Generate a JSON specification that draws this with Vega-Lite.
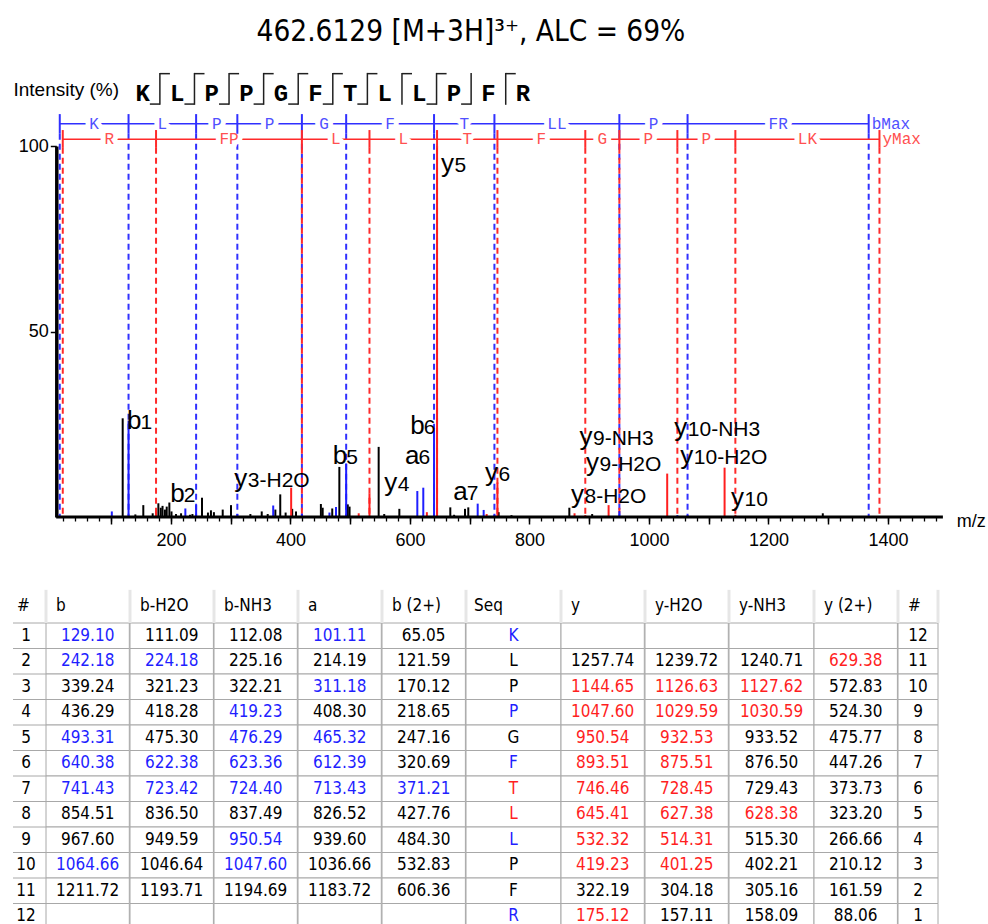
{
"$schema": "https://vega.github.io/schema/vega-lite/v6.json",
"padding": {"left": 12, "top": 16, "right": 5, "bottom": 0},
"title": {"text": "462.6129 [M+3H]³⁺, ALC = 69%", "font": "DejaVu Sans Condensed", "fontSize": 29.5, "fontWeight": "normal", "anchor": "middle", "dx": -28, "offset": 25, "color": "#000000"},
"config": {"view": {"stroke": null}, "axis": {"labelFont": "Liberation Sans", "titleFont": "Liberation Sans"}},
"spacing": 38.5,
"datasets": {
"peaks": [
{"mz":119.3,"in":26.6,"t":"n"},{"mz":140.5,"in":0.7,"t":"n"},{"mz":153.8,"in":3.2,"t":"n"},{"mz":169.5,"in":1.0,"t":"n"},{"mz":179,"in":3.7,"t":"n"},{"mz":183,"in":2.5,"t":"n"},{"mz":186,"in":3.0,"t":"n"},{"mz":190,"in":2.0,"t":"n"},{"mz":193,"in":2.8,"t":"n"},{"mz":197.4,"in":3.9,"t":"n"},{"mz":201,"in":1.5,"t":"n"},{"mz":208.5,"in":0.8,"t":"n"},{"mz":217,"in":1.0,"t":"n"},{"mz":232,"in":0.6,"t":"n"},{"mz":236,"in":0.8,"t":"n"},{"mz":252,"in":5.2,"t":"n"},{"mz":262,"in":1.2,"t":"n"},{"mz":267,"in":1.8,"t":"n"},{"mz":272,"in":1.3,"t":"n"},{"mz":286.7,"in":2.0,"t":"n"},{"mz":300.6,"in":3.2,"t":"n"},{"mz":333,"in":0.8,"t":"n"},{"mz":352,"in":1.5,"t":"n"},{"mz":362,"in":0.8,"t":"n"},{"mz":374.8,"in":2.0,"t":"n"},{"mz":383,"in":6.1,"t":"n"},{"mz":392,"in":1.2,"t":"n"},{"mz":403,"in":2.2,"t":"n"},{"mz":409.4,"in":1.5,"t":"n"},{"mz":451,"in":3.5,"t":"n"},{"mz":454,"in":2.5,"t":"n"},{"mz":470,"in":2.3,"t":"n"},{"mz":481.9,"in":13.5,"t":"n"},{"mz":496,"in":3.4,"t":"n"},{"mz":499,"in":2.8,"t":"n"},{"mz":547.7,"in":18.9,"t":"n"},{"mz":557,"in":0.8,"t":"n"},{"mz":582.3,"in":2.2,"t":"n"},{"mz":667.6,"in":2.6,"t":"n"},{"mz":674,"in":0.6,"t":"n"},{"mz":692.2,"in":2.2,"t":"n"},{"mz":697.7,"in":2.6,"t":"n"},{"mz":748.5,"in":1.3,"t":"n"},{"mz":770,"in":0.5,"t":"n"},{"mz":866.8,"in":2.5,"t":"n"},{"mz":905,"in":0.8,"t":"n"},{"mz":1291,"in":1.0,"t":"n"},
{"mz":101.11,"in":1.5,"t":"b"},{"mz":129.10,"in":26.0,"t":"b"},{"mz":224.18,"in":2.3,"t":"b"},{"mz":242.18,"in":3.2,"t":"b"},{"mz":311.18,"in":0.8,"t":"b"},{"mz":371.21,"in":3.1,"t":"b"},{"mz":419.23,"in":0.9,"t":"b"},{"mz":465.32,"in":1.2,"t":"b"},{"mz":476.29,"in":2.7,"t":"b"},{"mz":493.31,"in":14.4,"t":"b"},{"mz":612.39,"in":7.0,"t":"b"},{"mz":622.38,"in":7.9,"t":"b"},{"mz":640.38,"in":24.0,"t":"b"},{"mz":713.43,"in":3.6,"t":"b"},{"mz":723.42,"in":1.9,"t":"b"},{"mz":741.43,"in":0.6,"t":"b"},{"mz":950.54,"in":1.6,"t":"b"},{"mz":1047.60,"in":0.5,"t":"b"},{"mz":1064.66,"in":0.5,"t":"b"},
{"mz":175.12,"in":1.8,"t":"y"},{"mz":401.25,"in":7.9,"t":"y"},{"mz":514.31,"in":1.0,"t":"y"},{"mz":532.32,"in":6.3,"t":"y"},{"mz":628.38,"in":1.3,"t":"y"},{"mz":645.41,"in":100,"t":"y"},{"mz":728.45,"in":0.8,"t":"y"},{"mz":746.46,"in":9.3,"t":"y"},{"mz":875.51,"in":1.0,"t":"y"},{"mz":893.51,"in":0.5,"t":"y"},{"mz":932.53,"in":3.2,"t":"y"},{"mz":1030.59,"in":11.7,"t":"y"},{"mz":1126.63,"in":13.3,"t":"y"},{"mz":1144.65,"in":0.6,"t":"y"}
],
"lad": [
{"s":"b","mz":14},{"s":"b","mz":129.10},{"s":"b","mz":242.18},{"s":"b","mz":311.18},{"s":"b","mz":419.23},{"s":"b","mz":493.31},{"s":"b","mz":640.38},{"s":"b","mz":741.43},{"s":"b","mz":950.54},{"s":"b","mz":1064.66},{"s":"b","mz":1367.80},
{"s":"y","mz":19.02},{"s":"y","mz":175.12},{"s":"y","mz":419.23},{"s":"y","mz":532.32},{"s":"y","mz":645.41},{"s":"y","mz":746.46},{"s":"y","mz":893.51},{"s":"y","mz":950.54},{"s":"y","mz":1047.60},{"s":"y","mz":1144.65},{"s":"y","mz":1385.82}
],
"ladlab": [
{"s":"b","mz":71.55,"l":"K"},{"s":"b","mz":185.64,"l":"L"},{"s":"b","mz":276.68,"l":"P"},{"s":"b","mz":365.2,"l":"P"},{"s":"b","mz":456.27,"l":"G"},{"s":"b","mz":566.85,"l":"F"},{"s":"b","mz":690.9,"l":"T"},{"s":"b","mz":845.99,"l":"LL"},{"s":"b","mz":1007.6,"l":"P"},{"s":"b","mz":1216.23,"l":"FR"},
{"s":"y","mz":97.07,"l":"R"},{"s":"y","mz":297.18,"l":"FP"},{"s":"y","mz":475.78,"l":"L"},{"s":"y","mz":588.87,"l":"L"},{"s":"y","mz":695.94,"l":"T"},{"s":"y","mz":819.99,"l":"F"},{"s":"y","mz":922.03,"l":"G"},{"s":"y","mz":999.07,"l":"P"},{"s":"y","mz":1096.13,"l":"P"},{"s":"y","mz":1265.24,"l":"LK"}
],
"ann": [
{"ion":"b","rest":"1","mz":126.5,"in":23.7},{"ion":"b","rest":"2","mz":199,"in":4.1},{"ion":"y","rest":"3-H2O","mz":306.1,"in":8.1},{"ion":"b","rest":"5","mz":470.8,"in":14.2},{"ion":"a","rest":"6","mz":591.8,"in":14.2},{"ion":"b","rest":"6","mz":600.7,"in":22.3},{"ion":"y","rest":"4","mz":557.2,"in":7.0},{"ion":"a","rest":"7","mz":672.6,"in":4.6},{"ion":"y","rest":"6","mz":725.7,"in":9.7},{"ion":"y","rest":"5","mz":652,"in":93},{"ion":"y","rest":"8-H2O","mz":869.6,"in":3.9},{"ion":"y","rest":"9-H2O","mz":894.7,"in":12.4},{"ion":"y","rest":"9-NH3","mz":883.8,"in":19.4},{"ion":"y","rest":"10-NH3","mz":1042.5,"in":21.8},{"ion":"y","rest":"10-H2O","mz":1052.5,"in":14.2},{"ion":"y","rest":"10","mz":1137.4,"in":3.0}
],
"seq": [
{"i":1,"aa":"K","b":1,"y":1},{"i":2,"aa":"L","b":1,"y":1},{"i":3,"aa":"P","b":1,"y":1},{"i":4,"aa":"P","b":1,"y":1},{"i":5,"aa":"G","b":1,"y":1},{"i":6,"aa":"F","b":1,"y":1},{"i":7,"aa":"T","b":1,"y":1},{"i":8,"aa":"L","b":0,"y":1},{"i":9,"aa":"L","b":1,"y":1},{"i":10,"aa":"P","b":1,"y":0},{"i":11,"aa":"F","b":0,"y":1},{"i":12,"aa":"R","b":0,"y":0}
],
"tbl": [
{"r":0,"c":"n1","v":"#","h":"n"},{"r":0,"c":"b","v":"b","h":"n"},{"r":0,"c":"bw","v":"b-H2O","h":"n"},{"r":0,"c":"bn","v":"b-NH3","h":"n"},{"r":0,"c":"a","v":"a","h":"n"},{"r":0,"c":"b2","v":"b (2+)","h":"n"},{"r":0,"c":"sq","v":"Seq","h":"n"},{"r":0,"c":"y","v":"y","h":"n"},{"r":0,"c":"yw","v":"y-H2O","h":"n"},{"r":0,"c":"yn","v":"y-NH3","h":"n"},{"r":0,"c":"y2","v":"y (2+)","h":"n"},{"r":0,"c":"n2","v":"#","h":"n"},
{"r":1,"c":"n1","v":"1","h":"n"},{"r":1,"c":"b","v":"129.10","h":"b"},{"r":1,"c":"bw","v":"111.09","h":"n"},{"r":1,"c":"bn","v":"112.08","h":"n"},{"r":1,"c":"a","v":"101.11","h":"b"},{"r":1,"c":"b2","v":"65.05","h":"n"},{"r":1,"c":"sq","v":"K","h":"b"},{"r":1,"c":"y","v":"","h":"n"},{"r":1,"c":"yw","v":"","h":"n"},{"r":1,"c":"yn","v":"","h":"n"},{"r":1,"c":"y2","v":"","h":"n"},{"r":1,"c":"n2","v":"12","h":"n"},
{"r":2,"c":"n1","v":"2","h":"n"},{"r":2,"c":"b","v":"242.18","h":"b"},{"r":2,"c":"bw","v":"224.18","h":"b"},{"r":2,"c":"bn","v":"225.16","h":"n"},{"r":2,"c":"a","v":"214.19","h":"n"},{"r":2,"c":"b2","v":"121.59","h":"n"},{"r":2,"c":"sq","v":"L","h":"v"},{"r":2,"c":"y","v":"1257.74","h":"n"},{"r":2,"c":"yw","v":"1239.72","h":"n"},{"r":2,"c":"yn","v":"1240.71","h":"n"},{"r":2,"c":"y2","v":"629.38","h":"y"},{"r":2,"c":"n2","v":"11","h":"n"},
{"r":3,"c":"n1","v":"3","h":"n"},{"r":3,"c":"b","v":"339.24","h":"n"},{"r":3,"c":"bw","v":"321.23","h":"n"},{"r":3,"c":"bn","v":"322.21","h":"n"},{"r":3,"c":"a","v":"311.18","h":"b"},{"r":3,"c":"b2","v":"170.12","h":"n"},{"r":3,"c":"sq","v":"P","h":"v"},{"r":3,"c":"y","v":"1144.65","h":"y"},{"r":3,"c":"yw","v":"1126.63","h":"y"},{"r":3,"c":"yn","v":"1127.62","h":"y"},{"r":3,"c":"y2","v":"572.83","h":"n"},{"r":3,"c":"n2","v":"10","h":"n"},
{"r":4,"c":"n1","v":"4","h":"n"},{"r":4,"c":"b","v":"436.29","h":"n"},{"r":4,"c":"bw","v":"418.28","h":"n"},{"r":4,"c":"bn","v":"419.23","h":"b"},{"r":4,"c":"a","v":"408.30","h":"n"},{"r":4,"c":"b2","v":"218.65","h":"n"},{"r":4,"c":"sq","v":"P","h":"b"},{"r":4,"c":"y","v":"1047.60","h":"y"},{"r":4,"c":"yw","v":"1029.59","h":"y"},{"r":4,"c":"yn","v":"1030.59","h":"y"},{"r":4,"c":"y2","v":"524.30","h":"n"},{"r":4,"c":"n2","v":"9","h":"n"},
{"r":5,"c":"n1","v":"5","h":"n"},{"r":5,"c":"b","v":"493.31","h":"b"},{"r":5,"c":"bw","v":"475.30","h":"n"},{"r":5,"c":"bn","v":"476.29","h":"b"},{"r":5,"c":"a","v":"465.32","h":"b"},{"r":5,"c":"b2","v":"247.16","h":"n"},{"r":5,"c":"sq","v":"G","h":"n"},{"r":5,"c":"y","v":"950.54","h":"y"},{"r":5,"c":"yw","v":"932.53","h":"y"},{"r":5,"c":"yn","v":"933.52","h":"n"},{"r":5,"c":"y2","v":"475.77","h":"n"},{"r":5,"c":"n2","v":"8","h":"n"},
{"r":6,"c":"n1","v":"6","h":"n"},{"r":6,"c":"b","v":"640.38","h":"b"},{"r":6,"c":"bw","v":"622.38","h":"b"},{"r":6,"c":"bn","v":"623.36","h":"b"},{"r":6,"c":"a","v":"612.39","h":"b"},{"r":6,"c":"b2","v":"320.69","h":"n"},{"r":6,"c":"sq","v":"F","h":"b"},{"r":6,"c":"y","v":"893.51","h":"y"},{"r":6,"c":"yw","v":"875.51","h":"y"},{"r":6,"c":"yn","v":"876.50","h":"n"},{"r":6,"c":"y2","v":"447.26","h":"n"},{"r":6,"c":"n2","v":"7","h":"n"},
{"r":7,"c":"n1","v":"7","h":"n"},{"r":7,"c":"b","v":"741.43","h":"b"},{"r":7,"c":"bw","v":"723.42","h":"b"},{"r":7,"c":"bn","v":"724.40","h":"b"},{"r":7,"c":"a","v":"713.43","h":"b"},{"r":7,"c":"b2","v":"371.21","h":"b"},{"r":7,"c":"sq","v":"T","h":"y"},{"r":7,"c":"y","v":"746.46","h":"y"},{"r":7,"c":"yw","v":"728.45","h":"y"},{"r":7,"c":"yn","v":"729.43","h":"n"},{"r":7,"c":"y2","v":"373.73","h":"n"},{"r":7,"c":"n2","v":"6","h":"n"},
{"r":8,"c":"n1","v":"8","h":"n"},{"r":8,"c":"b","v":"854.51","h":"n"},{"r":8,"c":"bw","v":"836.50","h":"n"},{"r":8,"c":"bn","v":"837.49","h":"n"},{"r":8,"c":"a","v":"826.52","h":"n"},{"r":8,"c":"b2","v":"427.76","h":"n"},{"r":8,"c":"sq","v":"L","h":"y"},{"r":8,"c":"y","v":"645.41","h":"y"},{"r":8,"c":"yw","v":"627.38","h":"y"},{"r":8,"c":"yn","v":"628.38","h":"y"},{"r":8,"c":"y2","v":"323.20","h":"n"},{"r":8,"c":"n2","v":"5","h":"n"},
{"r":9,"c":"n1","v":"9","h":"n"},{"r":9,"c":"b","v":"967.60","h":"n"},{"r":9,"c":"bw","v":"949.59","h":"n"},{"r":9,"c":"bn","v":"950.54","h":"b"},{"r":9,"c":"a","v":"939.60","h":"n"},{"r":9,"c":"b2","v":"484.30","h":"n"},{"r":9,"c":"sq","v":"L","h":"b"},{"r":9,"c":"y","v":"532.32","h":"y"},{"r":9,"c":"yw","v":"514.31","h":"y"},{"r":9,"c":"yn","v":"515.30","h":"n"},{"r":9,"c":"y2","v":"266.66","h":"n"},{"r":9,"c":"n2","v":"4","h":"n"},
{"r":10,"c":"n1","v":"10","h":"n"},{"r":10,"c":"b","v":"1064.66","h":"b"},{"r":10,"c":"bw","v":"1046.64","h":"n"},{"r":10,"c":"bn","v":"1047.60","h":"b"},{"r":10,"c":"a","v":"1036.66","h":"n"},{"r":10,"c":"b2","v":"532.83","h":"n"},{"r":10,"c":"sq","v":"P","h":"n"},{"r":10,"c":"y","v":"419.23","h":"y"},{"r":10,"c":"yw","v":"401.25","h":"y"},{"r":10,"c":"yn","v":"402.21","h":"n"},{"r":10,"c":"y2","v":"210.12","h":"n"},{"r":10,"c":"n2","v":"3","h":"n"},
{"r":11,"c":"n1","v":"11","h":"n"},{"r":11,"c":"b","v":"1211.72","h":"n"},{"r":11,"c":"bw","v":"1193.71","h":"n"},{"r":11,"c":"bn","v":"1194.69","h":"n"},{"r":11,"c":"a","v":"1183.72","h":"n"},{"r":11,"c":"b2","v":"606.36","h":"n"},{"r":11,"c":"sq","v":"F","h":"n"},{"r":11,"c":"y","v":"322.19","h":"n"},{"r":11,"c":"yw","v":"304.18","h":"n"},{"r":11,"c":"yn","v":"305.16","h":"n"},{"r":11,"c":"y2","v":"161.59","h":"n"},{"r":11,"c":"n2","v":"2","h":"n"},
{"r":12,"c":"n1","v":"12","h":"n"},{"r":12,"c":"b","v":"","h":"n"},{"r":12,"c":"bw","v":"","h":"n"},{"r":12,"c":"bn","v":"","h":"n"},{"r":12,"c":"a","v":"","h":"n"},{"r":12,"c":"b2","v":"","h":"n"},{"r":12,"c":"sq","v":"R","h":"b"},{"r":12,"c":"y","v":"175.12","h":"y"},{"r":12,"c":"yw","v":"157.11","h":"n"},{"r":12,"c":"yn","v":"158.09","h":"n"},{"r":12,"c":"y2","v":"88.06","h":"n"},{"r":12,"c":"n2","v":"1","h":"n"}
]
},
"vconcat": [
{
"width": 929.9, "height": 371,
"resolve": {"scale": {"x": "independent"}, "axis": {"x": "independent"}},
"layer": [
{
"resolve": {"axis": {"x": "independent"}},
"layer": [
{"data": {"name": "lad"}, "transform": [{"filter": "datum.s === 'b'"}],
 "mark": {"type": "rule", "color": "#3030ff", "strokeWidth": 2, "strokeDash": [6, 4]},
 "encoding": {
  "x": {"field": "mz", "type": "quantitative", "scale": {"domain": [-64.27, 1492], "nice": false, "zero": false},
        "axis": {"orient": "bottom", "values": [100,200,300,400,500,600,700,800,900,1000,1100,1200,1300,1400], "tickSize": 7, "tickWidth": 1.5, "tickColor": "#000000", "format": "d", "labelExpr": "datum.value % 200 === 0 ? datum.label : ''", "labelFontSize": 18, "labelColor": "#000000", "labelPadding": 7, "labelFlush": false, "labelOverlap": false, "domain": false, "grid": false, "title": "m/z", "titleX": 943.3, "titleY": 9, "titleAlign": "left", "titleBaseline": "alphabetic", "titleFontSize": 18, "titleFontWeight": "normal", "titleColor": "#000000"}},
  "y": {"datum": 103.3, "type": "quantitative", "scale": {"domain": [0, 100], "nice": false, "zero": true},
        "axis": {"offset": -43.3, "values": [50, 100], "tickSize": 6, "tickWidth": 1.5, "tickColor": "#000000", "labelFontSize": 18, "labelColor": "#000000", "labelPadding": 2, "domainWidth": 3.5, "domainColor": "#000000", "grid": false, "title": "Intensity (%)", "titleAngle": 0, "titleAlign": "left", "titleBaseline": "alphabetic", "titleX": -43.3, "titleY": -50.5, "titleFontSize": 19, "titleFontWeight": "normal", "titleColor": "#000000"}},
  "y2": {"datum": 0}
 }},
{"data": {"name": "lad"}, "transform": [{"filter": "datum.s === 'y'"}],
 "mark": {"type": "rule", "color": "#ff2a2a", "strokeWidth": 2, "strokeDash": [6, 4]},
 "encoding": {"x": {"field": "mz", "type": "quantitative", "axis": null}, "y": {"datum": 99.5, "type": "quantitative"}, "y2": {"datum": 0}}},
{"data": {"name": "peaks"},
 "mark": {"type": "rule", "strokeWidth": 2},
 "encoding": {
  "x": {"field": "mz", "type": "quantitative", "axis": {"orient": "bottom", "values": [20,40,60,80,100,120,140,160,180,200,220,240,260,280,300,320,340,360,380,400,420,440,460,480,500,520,540,560,580,600,620,640,660,680,700,720,740,760,780,800,820,840,860,880,900,920,940,960,980,1000,1020,1040,1060,1080,1100,1120,1140,1160,1180,1200,1220,1240,1260,1280,1300,1320,1340,1360,1380,1400,1420,1440,1460,1480], "tickSize": 4, "tickWidth": 1.3, "tickColor": "#000000", "labels": false, "domain": false, "grid": false, "title": null}},
  "y": {"field": "in", "type": "quantitative"},
  "y2": {"datum": 0},
  "color": {"field": "t", "type": "nominal", "scale": {"domain": ["n", "b", "y"], "range": ["#000000", "#1f1fff", "#ff1f1f"]}, "legend": null}
 }},
{"data": {"values": [{}]},
 "mark": {"type": "rule", "color": "#000000", "strokeWidth": 3},
 "encoding": {"x": {"datum": 8, "type": "quantitative", "axis": null}, "x2": {"datum": 1492}, "y": {"datum": 0, "type": "quantitative"}}},
{"data": {"name": "lad"}, "transform": [{"filter": "datum.s === 'b'"}],
 "mark": {"type": "rule", "color": "#3030ff", "strokeWidth": 1.5},
 "encoding": {"x": {"aggregate": "min", "field": "mz", "type": "quantitative", "axis": null}, "x2": {"aggregate": "max", "field": "mz"}, "y": {"datum": 106, "type": "quantitative"}}},
{"data": {"name": "lad"}, "transform": [{"filter": "datum.s === 'y'"}],
 "mark": {"type": "rule", "color": "#ff2a2a", "strokeWidth": 1.5},
 "encoding": {"x": {"aggregate": "min", "field": "mz", "type": "quantitative", "axis": null}, "x2": {"aggregate": "max", "field": "mz"}, "y": {"datum": 101.8, "type": "quantitative"}}},
{"data": {"name": "ladlab"}, "transform": [{"filter": "datum.s === 'b'"}],
 "mark": {"type": "text", "font": "Liberation Mono", "fontSize": 16, "baseline": "middle", "fill": "#ffffff", "stroke": "#ffffff", "strokeWidth": 10, "strokeJoin": "round"},
 "encoding": {"x": {"field": "mz", "type": "quantitative", "axis": null}, "y": {"datum": 106, "type": "quantitative"}, "text": {"field": "l"}}},
{"data": {"name": "ladlab"}, "transform": [{"filter": "datum.s === 'y'"}],
 "mark": {"type": "text", "font": "Liberation Mono", "fontSize": 16, "baseline": "middle", "fill": "#ffffff", "stroke": "#ffffff", "strokeWidth": 10, "strokeJoin": "round"},
 "encoding": {"x": {"field": "mz", "type": "quantitative", "axis": null}, "y": {"datum": 101.8, "type": "quantitative"}, "text": {"field": "l"}}},
{"data": {"name": "ladlab"}, "transform": [{"filter": "datum.s === 'b'"}],
 "mark": {"type": "text", "font": "Liberation Mono", "fontSize": 16, "baseline": "middle", "fill": "#5050ff"},
 "encoding": {"x": {"field": "mz", "type": "quantitative", "axis": null}, "y": {"datum": 106, "type": "quantitative"}, "text": {"field": "l"}}},
{"data": {"name": "ladlab"}, "transform": [{"filter": "datum.s === 'y'"}],
 "mark": {"type": "text", "font": "Liberation Mono", "fontSize": 16, "baseline": "middle", "fill": "#ff5050"},
 "encoding": {"x": {"field": "mz", "type": "quantitative", "axis": null}, "y": {"datum": 101.8, "type": "quantitative"}, "text": {"field": "l"}}},
{"data": {"name": "lad"}, "transform": [{"filter": "datum.s === 'b'"}],
 "mark": {"type": "rule", "color": "#3030ff", "strokeWidth": 2},
 "encoding": {"x": {"field": "mz", "type": "quantitative", "axis": null}, "y": {"datum": 108.6, "type": "quantitative"}, "y2": {"datum": 103.3}}},
{"data": {"name": "lad"}, "transform": [{"filter": "datum.s === 'y'"}],
 "mark": {"type": "rule", "color": "#ff2a2a", "strokeWidth": 2},
 "encoding": {"x": {"field": "mz", "type": "quantitative", "axis": null}, "y": {"datum": 104.3, "type": "quantitative"}, "y2": {"datum": 99.5}}},
{"data": {"name": "lad"}, "transform": [{"filter": "datum.s === 'b'"}],
 "mark": {"type": "text", "font": "Liberation Mono", "fontSize": 16, "baseline": "middle", "align": "left", "dx": 3, "fill": "#5050ff"},
 "encoding": {"x": {"aggregate": "max", "field": "mz", "type": "quantitative", "axis": null}, "y": {"datum": 106, "type": "quantitative"}, "text": {"value": "bMax"}}},
{"data": {"name": "lad"}, "transform": [{"filter": "datum.s === 'y'"}],
 "mark": {"type": "text", "font": "Liberation Mono", "fontSize": 16, "baseline": "middle", "align": "left", "dx": 3, "fill": "#ff5050"},
 "encoding": {"x": {"aggregate": "max", "field": "mz", "type": "quantitative", "axis": null}, "y": {"datum": 101.8, "type": "quantitative"}, "text": {"value": "yMax"}}},
{"data": {"name": "ann"},
 "mark": {"type": "text", "font": "Liberation Sans", "fontSize": 26, "align": "left", "baseline": "alphabetic", "fill": "#000000"},
 "encoding": {"x": {"field": "mz", "type": "quantitative", "axis": null}, "y": {"field": "in", "type": "quantitative"}, "text": {"field": "ion"}}},
{"data": {"name": "ann"},
 "mark": {"type": "text", "font": "Liberation Sans", "fontSize": 21, "align": "left", "baseline": "alphabetic", "dx": 13.5, "fill": "#000000"},
 "encoding": {"x": {"field": "mz", "type": "quantitative", "axis": null}, "y": {"field": "in", "type": "quantitative"}, "text": {"field": "rest"}}}
]
},
{
"data": {"name": "seq"},
"layer": [
{"mark": {"type": "text", "font": "Liberation Mono", "fontSize": 24, "fontWeight": "bold", "baseline": "middle", "fill": "#000000"},
 "encoding": {"x": {"field": "i", "type": "ordinal", "scale": {"type": "band", "domain": [1,2,3,4,5,6,7,8,9,10,11,12], "range": [112.3, 527.3], "paddingInner": 0, "paddingOuter": 0}, "axis": null}, "y": {"datum": 114.1, "type": "quantitative"}, "text": {"field": "aa"}}},
{"transform": [{"filter": "datum.i < 12"}],
 "mark": {"type": "rule", "color": "#202020", "strokeWidth": 1.5},
 "encoding": {"x": {"field": "i", "type": "ordinal", "bandPosition": 1, "axis": null}, "y": {"datum": 119.7, "type": "quantitative"}, "y2": {"datum": 111.1}}},
{"transform": [{"filter": "datum.y === 1"}],
 "mark": {"type": "rule", "color": "#202020", "strokeWidth": 1.5},
 "encoding": {"x": {"field": "i", "type": "ordinal", "bandPosition": 1, "axis": null}, "x2": {"field": "i", "bandPosition": 1.29}, "y": {"datum": 119.5, "type": "quantitative"}}},
{"transform": [{"filter": "datum.b === 1"}],
 "mark": {"type": "rule", "color": "#202020", "strokeWidth": 1.5},
 "encoding": {"x": {"field": "i", "type": "ordinal", "bandPosition": 0.71, "axis": null}, "x2": {"field": "i", "bandPosition": 1}, "y": {"datum": 111.3, "type": "quantitative"}}}
]
}
]
},
{
"hconcat": [
{"width": 33, "height": 331.5, "data": {"name": "tbl"}, "transform": [{"filter": "datum.c === 'n1'"}],
 "encoding": {"y": {"field": "r", "type": "ordinal", "scale": {"domain": [0,1,2,3,4,5,6,7,8,9,10,11,12], "paddingInner": 0, "paddingOuter": 0}, "axis": null}},
 "layer": [
  {"mark": {"type": "rule", "color": "#a8a8a8", "strokeWidth": 1}, "encoding": {"y": {"field": "r", "type": "ordinal", "bandPosition": 1}, "x": {"value": 0}, "x2": {"value": "width"}}},
  {"transform": [{"filter": "datum.r > 0"}], "mark": {"type": "text", "font": "DejaVu Sans Condensed", "fontSize": 17, "dx": -3.5, "fill": "#000000"}, "encoding": {"text": {"field": "v"}}},
  {"transform": [{"filter": "datum.r === 0"}], "mark": {"type": "text", "font": "DejaVu Sans Condensed", "fontSize": 17, "align": "left", "dx": 4, "dy": -4, "fill": "#000000"}, "encoding": {"x": {"value": 0}, "text": {"field": "v"}}}
 ]},
{"width": 83.3, "height": 331.5, "data": {"name": "tbl"}, "transform": [{"filter": "datum.c === 'b'"}],
 "encoding": {"y": {"field": "r", "type": "ordinal", "scale": {"domain": [0,1,2,3,4,5,6,7,8,9,10,11,12], "paddingInner": 0, "paddingOuter": 0}, "axis": null}},
 "layer": [
  {"transform": [{"filter": "datum.r > 0"}], "mark": {"type": "rect", "fill": "#ffffff", "stroke": "#a8a8a8", "strokeWidth": 1}, "encoding": {"x": {"value": 0}, "x2": {"value": "width"}}},
  {"transform": [{"filter": "datum.r === 0"}], "mark": {"type": "rule", "color": "#e6e6e6", "strokeWidth": 3}, "encoding": {"x": {"value": 0}, "y": {"field": "r", "type": "ordinal", "bandPosition": -0.3}, "y2": {"field": "r", "bandPosition": 1}}},
  {"transform": [{"filter": "datum.r > 0"}], "mark": {"type": "text", "font": "DejaVu Sans Condensed", "fontSize": 17}, "encoding": {"text": {"field": "v"}, "color": {"field": "h", "type": "nominal", "scale": {"domain": ["n","b","y","v"], "range": ["#000000","#0000ff","#ff0000","#c837ff"]}, "legend": null}}},
  {"transform": [{"filter": "datum.r === 0"}], "mark": {"type": "text", "font": "DejaVu Sans Condensed", "fontSize": 17, "align": "left", "dx": 10, "dy": -4, "fill": "#000000"}, "encoding": {"x": {"value": 0}, "text": {"field": "v"}}}
 ]},
{"width": 83.4, "height": 331.5, "data": {"name": "tbl"}, "transform": [{"filter": "datum.c === 'bw'"}],
 "encoding": {"y": {"field": "r", "type": "ordinal", "scale": {"domain": [0,1,2,3,4,5,6,7,8,9,10,11,12], "paddingInner": 0, "paddingOuter": 0}, "axis": null}},
 "layer": [
  {"transform": [{"filter": "datum.r > 0"}], "mark": {"type": "rect", "fill": "#ffffff", "stroke": "#a8a8a8", "strokeWidth": 1}, "encoding": {"x": {"value": 0}, "x2": {"value": "width"}}},
  {"transform": [{"filter": "datum.r === 0"}], "mark": {"type": "rule", "color": "#e6e6e6", "strokeWidth": 3}, "encoding": {"x": {"value": 0}, "y": {"field": "r", "type": "ordinal", "bandPosition": -0.3}, "y2": {"field": "r", "bandPosition": 1}}},
  {"transform": [{"filter": "datum.r > 0"}], "mark": {"type": "text", "font": "DejaVu Sans Condensed", "fontSize": 17}, "encoding": {"text": {"field": "v"}, "color": {"field": "h", "type": "nominal", "scale": {"domain": ["n","b","y","v"], "range": ["#000000","#0000ff","#ff0000","#c837ff"]}, "legend": null}}},
  {"transform": [{"filter": "datum.r === 0"}], "mark": {"type": "text", "font": "DejaVu Sans Condensed", "fontSize": 17, "align": "left", "dx": 10, "dy": -4, "fill": "#000000"}, "encoding": {"x": {"value": 0}, "text": {"field": "v"}}}
 ]},
{"width": 83.3, "height": 331.5, "data": {"name": "tbl"}, "transform": [{"filter": "datum.c === 'bn'"}],
 "encoding": {"y": {"field": "r", "type": "ordinal", "scale": {"domain": [0,1,2,3,4,5,6,7,8,9,10,11,12], "paddingInner": 0, "paddingOuter": 0}, "axis": null}},
 "layer": [
  {"transform": [{"filter": "datum.r > 0"}], "mark": {"type": "rect", "fill": "#ffffff", "stroke": "#a8a8a8", "strokeWidth": 1}, "encoding": {"x": {"value": 0}, "x2": {"value": "width"}}},
  {"transform": [{"filter": "datum.r === 0"}], "mark": {"type": "rule", "color": "#e6e6e6", "strokeWidth": 3}, "encoding": {"x": {"value": 0}, "y": {"field": "r", "type": "ordinal", "bandPosition": -0.3}, "y2": {"field": "r", "bandPosition": 1}}},
  {"transform": [{"filter": "datum.r > 0"}], "mark": {"type": "text", "font": "DejaVu Sans Condensed", "fontSize": 17}, "encoding": {"text": {"field": "v"}, "color": {"field": "h", "type": "nominal", "scale": {"domain": ["n","b","y","v"], "range": ["#000000","#0000ff","#ff0000","#c837ff"]}, "legend": null}}},
  {"transform": [{"filter": "datum.r === 0"}], "mark": {"type": "text", "font": "DejaVu Sans Condensed", "fontSize": 17, "align": "left", "dx": 10, "dy": -4, "fill": "#000000"}, "encoding": {"x": {"value": 0}, "text": {"field": "v"}}}
 ]},
{"width": 83.3, "height": 331.5, "data": {"name": "tbl"}, "transform": [{"filter": "datum.c === 'a'"}],
 "encoding": {"y": {"field": "r", "type": "ordinal", "scale": {"domain": [0,1,2,3,4,5,6,7,8,9,10,11,12], "paddingInner": 0, "paddingOuter": 0}, "axis": null}},
 "layer": [
  {"transform": [{"filter": "datum.r > 0"}], "mark": {"type": "rect", "fill": "#ffffff", "stroke": "#a8a8a8", "strokeWidth": 1}, "encoding": {"x": {"value": 0}, "x2": {"value": "width"}}},
  {"transform": [{"filter": "datum.r === 0"}], "mark": {"type": "rule", "color": "#e6e6e6", "strokeWidth": 3}, "encoding": {"x": {"value": 0}, "y": {"field": "r", "type": "ordinal", "bandPosition": -0.3}, "y2": {"field": "r", "bandPosition": 1}}},
  {"transform": [{"filter": "datum.r > 0"}], "mark": {"type": "text", "font": "DejaVu Sans Condensed", "fontSize": 17}, "encoding": {"text": {"field": "v"}, "color": {"field": "h", "type": "nominal", "scale": {"domain": ["n","b","y","v"], "range": ["#000000","#0000ff","#ff0000","#c837ff"]}, "legend": null}}},
  {"transform": [{"filter": "datum.r === 0"}], "mark": {"type": "text", "font": "DejaVu Sans Condensed", "fontSize": 17, "align": "left", "dx": 10, "dy": -4, "fill": "#000000"}, "encoding": {"x": {"value": 0}, "text": {"field": "v"}}}
 ]},
{"width": 83.4, "height": 331.5, "data": {"name": "tbl"}, "transform": [{"filter": "datum.c === 'b2'"}],
 "encoding": {"y": {"field": "r", "type": "ordinal", "scale": {"domain": [0,1,2,3,4,5,6,7,8,9,10,11,12], "paddingInner": 0, "paddingOuter": 0}, "axis": null}},
 "layer": [
  {"transform": [{"filter": "datum.r > 0"}], "mark": {"type": "rect", "fill": "#ffffff", "stroke": "#a8a8a8", "strokeWidth": 1}, "encoding": {"x": {"value": 0}, "x2": {"value": "width"}}},
  {"transform": [{"filter": "datum.r === 0"}], "mark": {"type": "rule", "color": "#e6e6e6", "strokeWidth": 3}, "encoding": {"x": {"value": 0}, "y": {"field": "r", "type": "ordinal", "bandPosition": -0.3}, "y2": {"field": "r", "bandPosition": 1}}},
  {"transform": [{"filter": "datum.r > 0"}], "mark": {"type": "text", "font": "DejaVu Sans Condensed", "fontSize": 17}, "encoding": {"text": {"field": "v"}, "color": {"field": "h", "type": "nominal", "scale": {"domain": ["n","b","y","v"], "range": ["#000000","#0000ff","#ff0000","#c837ff"]}, "legend": null}}},
  {"transform": [{"filter": "datum.r === 0"}], "mark": {"type": "text", "font": "DejaVu Sans Condensed", "fontSize": 17, "align": "left", "dx": 10, "dy": -4, "fill": "#000000"}, "encoding": {"x": {"value": 0}, "text": {"field": "v"}}}
 ]},
{"width": 95, "height": 331.5, "data": {"name": "tbl"}, "transform": [{"filter": "datum.c === 'sq'"}],
 "encoding": {"y": {"field": "r", "type": "ordinal", "scale": {"domain": [0,1,2,3,4,5,6,7,8,9,10,11,12], "paddingInner": 0, "paddingOuter": 0}, "axis": null}},
 "layer": [
  {"transform": [{"filter": "datum.r > 0"}], "mark": {"type": "rect", "fill": "#ffffff", "stroke": "#a8a8a8", "strokeWidth": 1}, "encoding": {"x": {"value": 0}, "x2": {"value": "width"}}},
  {"transform": [{"filter": "datum.r === 0"}], "mark": {"type": "rule", "color": "#e6e6e6", "strokeWidth": 3}, "encoding": {"x": {"value": 0}, "y": {"field": "r", "type": "ordinal", "bandPosition": -0.3}, "y2": {"field": "r", "bandPosition": 1}}},
  {"transform": [{"filter": "datum.r > 0"}], "mark": {"type": "text", "font": "DejaVu Sans Condensed", "fontSize": 17}, "encoding": {"text": {"field": "v"}, "color": {"field": "h", "type": "nominal", "scale": {"domain": ["n","b","y","v"], "range": ["#000000","#0000ff","#ff0000","#c837ff"]}, "legend": null}}},
  {"transform": [{"filter": "datum.r === 0"}], "mark": {"type": "text", "font": "DejaVu Sans Condensed", "fontSize": 17, "align": "left", "dx": 8, "dy": -4, "fill": "#000000"}, "encoding": {"x": {"value": 0}, "text": {"field": "v"}}}
 ]},
{"width": 83.3, "height": 331.5, "data": {"name": "tbl"}, "transform": [{"filter": "datum.c === 'y'"}],
 "encoding": {"y": {"field": "r", "type": "ordinal", "scale": {"domain": [0,1,2,3,4,5,6,7,8,9,10,11,12], "paddingInner": 0, "paddingOuter": 0}, "axis": null}},
 "layer": [
  {"transform": [{"filter": "datum.r > 0"}], "mark": {"type": "rect", "fill": "#ffffff", "stroke": "#a8a8a8", "strokeWidth": 1}, "encoding": {"x": {"value": 0}, "x2": {"value": "width"}}},
  {"transform": [{"filter": "datum.r === 0"}], "mark": {"type": "rule", "color": "#e6e6e6", "strokeWidth": 3}, "encoding": {"x": {"value": 0}, "y": {"field": "r", "type": "ordinal", "bandPosition": -0.3}, "y2": {"field": "r", "bandPosition": 1}}},
  {"transform": [{"filter": "datum.r > 0"}], "mark": {"type": "text", "font": "DejaVu Sans Condensed", "fontSize": 17}, "encoding": {"text": {"field": "v"}, "color": {"field": "h", "type": "nominal", "scale": {"domain": ["n","b","y","v"], "range": ["#000000","#0000ff","#ff0000","#c837ff"]}, "legend": null}}},
  {"transform": [{"filter": "datum.r === 0"}], "mark": {"type": "text", "font": "DejaVu Sans Condensed", "fontSize": 17, "align": "left", "dx": 10, "dy": -4, "fill": "#000000"}, "encoding": {"x": {"value": 0}, "text": {"field": "v"}}}
 ]},
{"width": 83.3, "height": 331.5, "data": {"name": "tbl"}, "transform": [{"filter": "datum.c === 'yw'"}],
 "encoding": {"y": {"field": "r", "type": "ordinal", "scale": {"domain": [0,1,2,3,4,5,6,7,8,9,10,11,12], "paddingInner": 0, "paddingOuter": 0}, "axis": null}},
 "layer": [
  {"transform": [{"filter": "datum.r > 0"}], "mark": {"type": "rect", "fill": "#ffffff", "stroke": "#a8a8a8", "strokeWidth": 1}, "encoding": {"x": {"value": 0}, "x2": {"value": "width"}}},
  {"transform": [{"filter": "datum.r === 0"}], "mark": {"type": "rule", "color": "#e6e6e6", "strokeWidth": 3}, "encoding": {"x": {"value": 0}, "y": {"field": "r", "type": "ordinal", "bandPosition": -0.3}, "y2": {"field": "r", "bandPosition": 1}}},
  {"transform": [{"filter": "datum.r > 0"}], "mark": {"type": "text", "font": "DejaVu Sans Condensed", "fontSize": 17}, "encoding": {"text": {"field": "v"}, "color": {"field": "h", "type": "nominal", "scale": {"domain": ["n","b","y","v"], "range": ["#000000","#0000ff","#ff0000","#c837ff"]}, "legend": null}}},
  {"transform": [{"filter": "datum.r === 0"}], "mark": {"type": "text", "font": "DejaVu Sans Condensed", "fontSize": 17, "align": "left", "dx": 10, "dy": -4, "fill": "#000000"}, "encoding": {"x": {"value": 0}, "text": {"field": "v"}}}
 ]},
{"width": 85, "height": 331.5, "data": {"name": "tbl"}, "transform": [{"filter": "datum.c === 'yn'"}],
 "encoding": {"y": {"field": "r", "type": "ordinal", "scale": {"domain": [0,1,2,3,4,5,6,7,8,9,10,11,12], "paddingInner": 0, "paddingOuter": 0}, "axis": null}},
 "layer": [
  {"transform": [{"filter": "datum.r > 0"}], "mark": {"type": "rect", "fill": "#ffffff", "stroke": "#a8a8a8", "strokeWidth": 1}, "encoding": {"x": {"value": 0}, "x2": {"value": "width"}}},
  {"transform": [{"filter": "datum.r === 0"}], "mark": {"type": "rule", "color": "#e6e6e6", "strokeWidth": 3}, "encoding": {"x": {"value": 0}, "y": {"field": "r", "type": "ordinal", "bandPosition": -0.3}, "y2": {"field": "r", "bandPosition": 1}}},
  {"transform": [{"filter": "datum.r > 0"}], "mark": {"type": "text", "font": "DejaVu Sans Condensed", "fontSize": 17}, "encoding": {"text": {"field": "v"}, "color": {"field": "h", "type": "nominal", "scale": {"domain": ["n","b","y","v"], "range": ["#000000","#0000ff","#ff0000","#c837ff"]}, "legend": null}}},
  {"transform": [{"filter": "datum.r === 0"}], "mark": {"type": "text", "font": "DejaVu Sans Condensed", "fontSize": 17, "align": "left", "dx": 10, "dy": -4, "fill": "#000000"}, "encoding": {"x": {"value": 0}, "text": {"field": "v"}}}
 ]},
{"width": 83.4, "height": 331.5, "data": {"name": "tbl"}, "transform": [{"filter": "datum.c === 'y2'"}],
 "encoding": {"y": {"field": "r", "type": "ordinal", "scale": {"domain": [0,1,2,3,4,5,6,7,8,9,10,11,12], "paddingInner": 0, "paddingOuter": 0}, "axis": null}},
 "layer": [
  {"transform": [{"filter": "datum.r > 0"}], "mark": {"type": "rect", "fill": "#ffffff", "stroke": "#a8a8a8", "strokeWidth": 1}, "encoding": {"x": {"value": 0}, "x2": {"value": "width"}}},
  {"transform": [{"filter": "datum.r === 0"}], "mark": {"type": "rule", "color": "#e6e6e6", "strokeWidth": 3}, "encoding": {"x": {"value": 0}, "y": {"field": "r", "type": "ordinal", "bandPosition": -0.3}, "y2": {"field": "r", "bandPosition": 1}}},
  {"transform": [{"filter": "datum.r > 0"}], "mark": {"type": "text", "font": "DejaVu Sans Condensed", "fontSize": 17}, "encoding": {"text": {"field": "v"}, "color": {"field": "h", "type": "nominal", "scale": {"domain": ["n","b","y","v"], "range": ["#000000","#0000ff","#ff0000","#c837ff"]}, "legend": null}}},
  {"transform": [{"filter": "datum.r === 0"}], "mark": {"type": "text", "font": "DejaVu Sans Condensed", "fontSize": 17, "align": "left", "dx": 10, "dy": -4, "fill": "#000000"}, "encoding": {"x": {"value": 0}, "text": {"field": "v"}}}
 ]},
{"width": 40, "height": 331.5, "data": {"name": "tbl"}, "transform": [{"filter": "datum.c === 'n2'"}],
 "encoding": {"y": {"field": "r", "type": "ordinal", "scale": {"domain": [0,1,2,3,4,5,6,7,8,9,10,11,12], "paddingInner": 0, "paddingOuter": 0}, "axis": null}},
 "layer": [
  {"transform": [{"filter": "datum.r > 0"}], "mark": {"type": "rect", "fill": "#ffffff", "stroke": "#a8a8a8", "strokeWidth": 1}, "encoding": {"x": {"value": 0}, "x2": {"value": "width"}}},
  {"transform": [{"filter": "datum.r === 0"}], "mark": {"type": "rule", "color": "#e6e6e6", "strokeWidth": 3}, "encoding": {"x": {"value": 0}, "y": {"field": "r", "type": "ordinal", "bandPosition": -0.3}, "y2": {"field": "r", "bandPosition": 1}}},
  {"transform": [{"filter": "datum.r === 0"}], "mark": {"type": "rule", "color": "#e6e6e6", "strokeWidth": 3}, "encoding": {"x": {"value": "width"}, "y": {"field": "r", "type": "ordinal", "bandPosition": -0.3}, "y2": {"field": "r", "bandPosition": 1}}},
  {"transform": [{"filter": "datum.r > 0"}], "mark": {"type": "text", "font": "DejaVu Sans Condensed", "fontSize": 17, "fill": "#000000"}, "encoding": {"text": {"field": "v"}}},
  {"transform": [{"filter": "datum.r === 0"}], "mark": {"type": "text", "font": "DejaVu Sans Condensed", "fontSize": 17, "align": "left", "dx": 10, "dy": -4, "fill": "#000000"}, "encoding": {"x": {"value": 0}, "text": {"field": "v"}}}
 ]}
],
"spacing": 0,
"bounds": "flush"
}
]
}
